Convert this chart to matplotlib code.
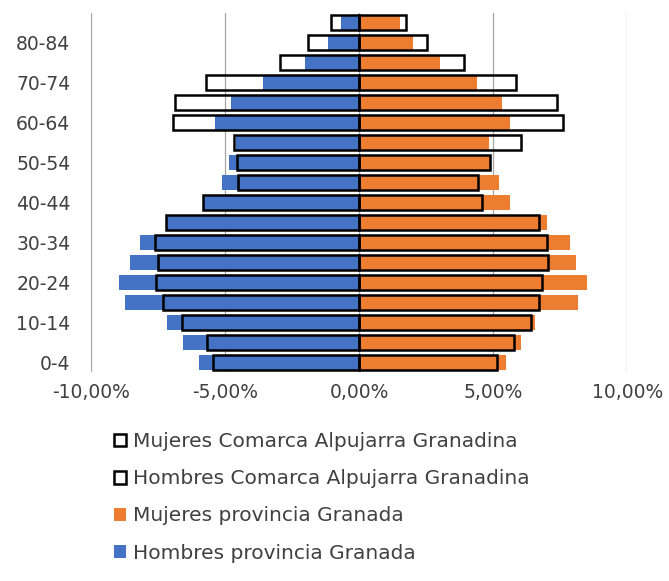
import numpy as np
import matplotlib.pyplot as plt
from matplotlib.ticker import FuncFormatter

plt.rcParams['font.family'] = ['DejaVu Sans']

# grupos de edad (de abajo a arriba)
grupos = ['0-4', '5-9', '10-14', '15-19', '20-24', '25-29', '30-34', '35-39',
          '40-44', '45-49', '50-54', '55-59', '60-64', '65-69', '70-74',
          '75-79', '80-84', '85+']

# porcentajes (%) sobre el total de población
hombres_prov = [5.99, 6.58, 7.17, 8.76, 8.96, 8.57, 8.20, 7.21, 5.84, 5.14,
                4.87, 4.62, 5.38, 4.78, 3.60, 2.04, 1.16, 0.68]
mujeres_prov = [5.49, 6.04, 6.56, 8.15, 8.50, 8.10, 7.87, 7.01, 5.61, 5.21,
                4.86, 4.84, 5.64, 5.32, 4.38, 3.01, 1.99, 1.50]
hombres_com = [5.45, 5.67, 6.62, 7.31, 7.58, 7.50, 7.63, 7.21, 5.84, 4.54,
               4.57, 4.68, 6.94, 6.89, 5.73, 2.96, 1.91, 1.05]
mujeres_com = [5.13, 5.76, 6.40, 6.72, 6.80, 7.05, 6.99, 6.69, 4.57, 4.41,
               4.89, 6.04, 7.60, 7.37, 5.84, 3.90, 2.53, 1.74]

xticks = [-10, -5, 0, 5, 10]

y = np.arange(len(grupos))
txt = '#404040'

fig = plt.figure(figsize=(6.69, 5.81), dpi=100)
ax = fig.add_axes([0.1365, 0.3597, 0.8012, 0.618])

b_hp = ax.barh(y, -np.array(hombres_prov), height=0.75, color='#4472C4', zorder=2,
               label='Hombres provincia Granada')
b_mp = ax.barh(y, mujeres_prov, height=0.75, color='#ED7D31', zorder=2,
               label='Mujeres provincia Granada')
b_hc = ax.barh(y, -np.array(hombres_com), height=0.75, facecolor='none',
               edgecolor='black', linewidth=1.8, zorder=3,
               label='Hombres Comarca Alpujarra Granadina')
b_mc = ax.barh(y, mujeres_com, height=0.75, facecolor='none',
               edgecolor='black', linewidth=1.8, zorder=3,
               label='Mujeres Comarca Alpujarra Granadina')

ax.set_xlim(-10, 10)
ax.set_ylim(-0.5, len(grupos) - 0.5)
ax.set_xticks(xticks)
ax.xaxis.set_major_formatter(FuncFormatter(lambda v, p: f'{v:.2f}%'.replace('.', ',')))
ax.set_yticks(y[::2])
ax.set_yticklabels(grupos[::2])
ax.tick_params(axis='both', length=0, labelsize=13.5, colors=txt)
ax.tick_params(axis='y', pad=15)
ax.tick_params(axis='x', pad=8)
ax.grid(axis='x', color='#A6A6A6', linewidth=0.9, zorder=0)
for s in ax.spines.values():
    s.set_visible(False)

fig.legend(handles=[b_mc, b_hc, b_mp, b_hp],
           labels=['Mujeres Comarca Alpujarra Granadina',
                   'Hombres Comarca Alpujarra Granadina',
                   'Mujeres provincia Granada',
                   'Hombres provincia Granada'],
           loc='upper left', bbox_to_anchor=(0.158, 0.27), frameon=False,
           fontsize=14.5, labelcolor=txt, handlelength=0.6, handleheight=0.6,
           handletextpad=0.35, labelspacing=0.9, borderaxespad=0)

fig.savefig('out.png', dpi=100)
